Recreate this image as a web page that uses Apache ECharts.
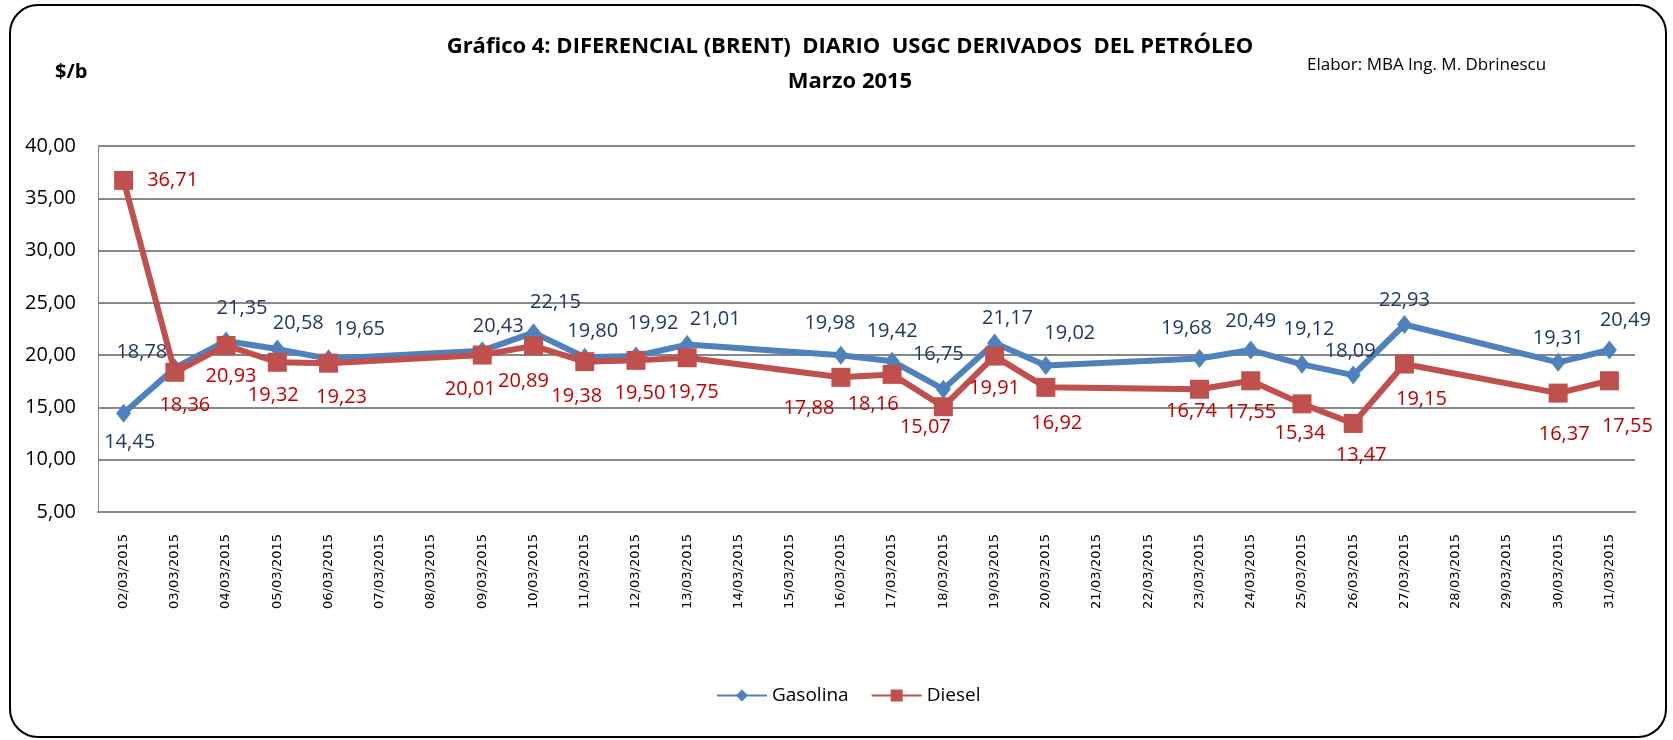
<!DOCTYPE html>
<html>
<head>
<meta charset="utf-8">
<script src="https://cdn.jsdelivr.net/npm/echarts@6/dist/echarts.min.js"></script>
<style>
html,body{margin:0;padding:0;background:#fff;}
#chart{width:1673px;height:740px;}
</style>
</head>
<body>
<div id="chart"></div>
<script>
var dates = ['02/03/2015','03/03/2015','04/03/2015','05/03/2015','06/03/2015','07/03/2015','08/03/2015','09/03/2015','10/03/2015','11/03/2015','12/03/2015','13/03/2015','14/03/2015','15/03/2015','16/03/2015','17/03/2015','18/03/2015','19/03/2015','20/03/2015','21/03/2015','22/03/2015','23/03/2015','24/03/2015','25/03/2015','26/03/2015','27/03/2015','28/03/2015','29/03/2015','30/03/2015','31/03/2015'];
var gasolina = [14.45,18.78,21.35,20.58,19.65,null,null,20.43,22.15,19.80,19.92,21.01,null,null,19.98,19.42,16.75,21.17,19.02,null,null,19.68,20.49,19.12,18.09,22.93,null,null,19.31,20.49];
var diesel = [36.71,18.36,20.93,19.32,19.23,null,null,20.01,20.89,19.38,19.50,19.75,null,null,17.88,18.16,15.07,19.91,16.92,null,null,16.74,17.55,15.34,13.47,19.15,null,null,16.37,17.55];
var yTicks = {min:5, max:40, interval:5};

// label placement offsets (style only)
var gasOff = [[6,29],[-33,-16],[16,-33],[21,-26],[31,-30],null,null,[16,-24],[22,-30],[8,-26],[17,-33],[28,-25],null,null,[-11,-32],[0,-30],[-5,-35],[13,-25],[24,-32],null,null,[-13,-30],[0,-29],[7,-35],[-3,-24],[0,-24],null,null,[0,-24],[16,-30]];
var dslOff = [[49,0],[10,33],[5,31],[-4,33],[13,34],null,null,[-12,34],[-10,35],[-8,35],[4,33],[6,35],null,null,[-32,31],[-19,30],[-18,21],[0,32],[11,36],null,null,[-8,22],[0,32],[-2,29],[8,32],[17,35],null,null,[6,41],[18,46]];

function fmt(v){ return v.toFixed(2).replace('.', ','); }
function build(vals, offs, color){
  return vals.map(function(v,i){
    if (v === null) return null;
    return {value:v, label:{show:true, position:'inside', offset:offs[i], color:color}};
  });
}

var chart = echarts.init(document.getElementById('chart'));
chart.setOption({
  animation:false,
  backgroundColor:'#fff',
  graphic:[
    {type:'rect', shape:{x:10,y:5,width:1656,height:732,r:28}, style:{fill:'none', stroke:'#000', lineWidth:2}, silent:true},
    {type:'text', left:55, top:62, style:{text:'$/b', font:'bold 20px "Open Sans"', fill:'#000'}},
    {type:'text', left:1307, top:57, style:{text:'Elabor: MBA Ing. M. Dbrinescu', font:'17px "Open Sans"', fill:'#000'}}
  ],
  title:{
    text:'Gráfico 4: DIFERENCIAL (BRENT)  DIARIO  USGC DERIVADOS  DEL PETRÓLEO\nMarzo 2015',
    left:845, top:24, textAlign:'center',
    textStyle:{fontFamily:'"Open Sans"', fontWeight:'bold', fontSize:22, lineHeight:35, color:'#000'}
  },
  legend:{
    bottom:30, left:711,
    itemWidth:50, itemHeight:15, itemGap:22,
    textStyle:{fontFamily:'"Open Sans"', fontSize:19, color:'#000'},
    data:['Gasolina','Diesel']
  },
  grid:{left:98, right:38, top:146, bottom:228},
  xAxis:{
    type:'category', data:dates, boundaryGap:true,
    axisLine:{lineStyle:{color:'#888', width:2}},
    axisTick:{show:false},
    axisLabel:{interval:0, rotate:90, margin:22, fontFamily:'"DejaVu Sans"', fontSize:13, color:'#000'}
  },
  yAxis:{
    type:'value', min:yTicks.min, max:yTicks.max, interval:yTicks.interval,
    axisLine:{show:true, lineStyle:{color:'#888', width:1}},
    axisTick:{show:false},
    splitLine:{lineStyle:{color:'#888', width:2}},
    axisLabel:{margin:22, formatter:function(v){return fmt(v);}, fontFamily:'"Open Sans"', fontSize:20, color:'#000'}
  },
  series:[
    {name:'Gasolina', type:'line', data:build(gasolina, gasOff, '#1F3864'), connectNulls:true,
     symbol:'diamond', symbolSize:[15,19], itemStyle:{color:'#4F81BD'}, lineStyle:{width:6, color:'#4F81BD'},
     label:{fontFamily:'"Open Sans"', fontSize:20, formatter:function(p){return fmt(p.value);}}, z:3},
    {name:'Diesel', type:'line', data:build(diesel, dslOff, '#C00000'), connectNulls:true,
     symbol:'rect', symbolSize:19, itemStyle:{color:'#C0504D'}, lineStyle:{width:6, color:'#C0504D'},
     label:{fontFamily:'"Open Sans"', fontSize:20, formatter:function(p){return fmt(p.value);}}, z:4}
  ]
});
</script>
</body>
</html>
